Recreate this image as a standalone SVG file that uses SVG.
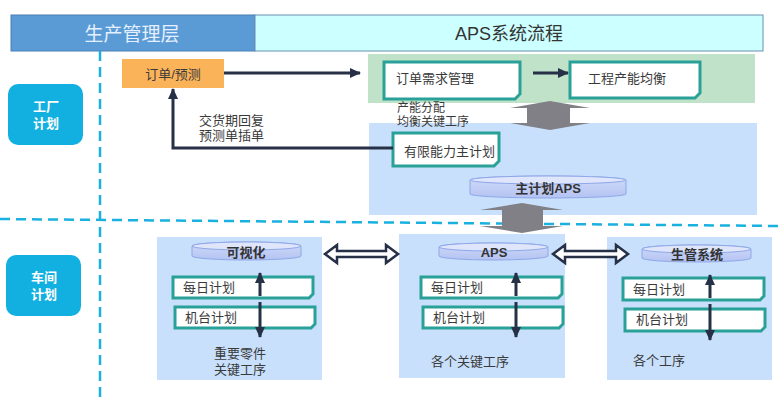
<svg xmlns="http://www.w3.org/2000/svg" width="781" height="402" viewBox="0 0 781 402">
<defs>
<style>
text{font-family:"Liberation Sans","Noto Sans CJK SC",sans-serif;fill:#3a3a3a;font-size:13px}
.hdr{font-size:18px}
.lbl{fill:#fff;font-weight:bold;font-size:13px;text-anchor:middle}
.b{font-weight:bold;text-anchor:middle;fill:#333}
.tbox{fill:#fff;stroke:#2aa198;stroke-width:3}
.dash{stroke:#1ab0e0;stroke-width:2.5;stroke-dasharray:10 6;fill:none}
.conn{stroke:#263046;stroke-width:3;fill:none}
.dbl{fill:#fff;stroke:#263046;stroke-width:2.5;stroke-linejoin:miter}
.fat{fill:#808086}
.cyl{fill:url(#cg);stroke:#8fa8e8;stroke-width:1}
.cyltop{fill:#dfe6fc;stroke:#8fa8e8;stroke-width:1}
.panel{fill:#c8e0fb}
</style>
<linearGradient id="cg" x1="0" y1="0" x2="0" y2="1">
<stop offset="0" stop-color="#d0daf8"/>
<stop offset="1" stop-color="#b4c3f2"/>
</linearGradient>
<marker id="ah" markerWidth="12" markerHeight="10" refX="10" refY="5" orient="auto" markerUnits="userSpaceOnUse">
<path d="M0,0 L11,5 L0,10 Z" fill="#263046"/>
</marker>
</defs>

<g id="header">
<rect x="11" y="15" width="244" height="36" fill="#5b9bd5" stroke="#4a7fb5" stroke-width="1"/>
<rect x="255" y="15" width="508" height="36" fill="#ccffff" stroke="#6a90b0" stroke-width="1"/>
<text class="hdr" x="132" y="41" text-anchor="middle" style="fill:#e4f0ff;font-size:19px">生产管理层</text>
<text class="hdr" x="509" y="40" text-anchor="middle" style="fill:#333">APS系统流程</text>
</g>

<g id="dividers">
<line class="dash" x1="100" y1="51" x2="100" y2="402"/>
<line class="dash" x1="0" y1="219" x2="781" y2="226"/>
</g>

<g id="factory-label">
<rect x="8" y="84" width="75" height="61" rx="10" fill="#12b0e0"/>
<text class="lbl" x="46" y="111">工厂</text>
<text class="lbl" x="46" y="128">计划</text>
</g>
<g id="workshop-label">
<rect x="6" y="255" width="75" height="61" rx="10" fill="#12b0e0"/>
<text class="lbl" x="44" y="282">车间</text>
<text class="lbl" x="44" y="299">计划</text>
</g>

<g id="bg-green"><rect x="368" y="54" width="387" height="49" fill="#c0e2c9"/></g>
<g id="bg-blue"><rect x="369" y="123" width="388" height="92" class="panel"/></g>

<g id="order-forecast">
<rect x="122" y="59" width="102" height="29" fill="#fbb35a"/>
<text x="173" y="79" text-anchor="middle">订单/预测</text>
</g>

<g id="order-demand">
<path class="tbox" d="M384,62 H520 V94 L515,99 H384 Z"/>
<text x="396" y="83">订单需求管理</text>
</g>

<g id="capacity-balance">
<path class="tbox" d="M570,62 H700 V93 L695,98 H570 Z"/>
<text x="588" y="83">工程产能均衡</text>
</g>

<g id="capacity-note">
<text x="397" y="112" style="font-size:12px">产能分配</text>
<text x="397" y="126" style="font-size:12px">均衡关键工序</text>
</g>

<g id="finite-plan">
<path class="tbox" d="M393,133 H499 V161 L494,166 H393 Z"/>
<text x="404" y="156">有限能力主计划</text>
</g>

<g id="master-aps">
<path class="cyl" d="M470,180 A78,4 0 0 1 626,180 V194 A78,4 0 0 1 470,194 Z"/>
<ellipse class="cyltop" cx="548" cy="180" rx="78" ry="4"/>
<text class="b" x="548" y="193">主计划APS</text>
</g>

<g id="reply-note">
<text x="199" y="125">交货期回复</text>
<text x="199" y="140">预测单插单</text>
</g>

<g id="panel-visual">
<rect x="157" y="237" width="165" height="143" class="panel"/>
<path class="cyl" d="M192,246 A54.5,4 0 0 1 301,246 V256 A54.5,4 0 0 1 192,256 Z"/>
<ellipse class="cyltop" cx="246.5" cy="246" rx="54.5" ry="4"/>
<text class="b" x="246" y="257">可视化</text>
<path class="tbox" d="M173,277 H313 V294 L309,298 H173 Z"/>
<text x="183" y="292">每日计划</text>
<path class="tbox" d="M175,307 H315 V324 L311,328 H175 Z"/>
<text x="185" y="322">机台计划</text>
<text x="240" y="358" text-anchor="middle">重要零件</text>
<text x="240" y="374" text-anchor="middle">关键工序</text>
</g>

<g id="panel-aps">
<rect x="399" y="234" width="166" height="144" class="panel"/>
<path class="cyl" d="M439,247 A54.5,4 0 0 1 548,247 V256 A54.5,4 0 0 1 439,256 Z"/>
<ellipse class="cyltop" cx="493.5" cy="247" rx="54.5" ry="4"/>
<text class="b" x="494" y="257">APS</text>
<path class="tbox" d="M421,277 H562 V294 L558,298 H421 Z"/>
<text x="431" y="292">每日计划</text>
<path class="tbox" d="M423,307 H563 V324 L559,328 H423 Z"/>
<text x="433" y="322">机台计划</text>
<text x="431" y="366">各个关键工序</text>
</g>

<g id="panel-prod">
<rect x="607" y="237" width="165" height="143" class="panel"/>
<path class="cyl" d="M642,249 A54.5,4 0 0 1 751,249 V258 A54.5,4 0 0 1 642,258 Z"/>
<ellipse class="cyltop" cx="696.5" cy="249" rx="54.5" ry="4"/>
<text class="b" x="697" y="259">生管系统</text>
<path class="tbox" d="M623,278 H764 V296 L760,300 H623 Z"/>
<text x="633" y="294">每日计划</text>
<path class="tbox" d="M625,309 H765 V327 L761,331 H625 Z"/>
<text x="636" y="324">机台计划</text>
<text x="633" y="365">各个工序</text>
</g>

<g id="connectors">
<line class="conn" x1="224" y1="73" x2="360" y2="73" marker-end="url(#ah)"/>
<line class="conn" x1="533" y1="73" x2="568" y2="73" marker-end="url(#ah)"/>
<path class="conn" d="M393,148 H173 V89" marker-end="url(#ah)"/>
<polygon class="fat" points="550,101 590,108 570,108 570,123 590,123 550,130 510,123 527,123 527,108 510,108"/>
<polygon class="fat" points="522,203 563,210 543,210 543,226 563,226 522,233 480,226 502,226 502,210 480,210"/>
<path class="dbl" d="M325,254 L337,245 L337,251 L386,251 L386,245 L398,254 L386,263 L386,257 L337,257 L337,263 Z"/>
<path class="dbl" d="M553,254 L565,245 L565,251 L616,251 L616,245 L628,254 L616,263 L616,257 L565,257 L565,263 Z"/>
<line class="conn" x1="260" y1="296" x2="260" y2="273" marker-end="url(#ah)"/>
<line class="conn" x1="260" y1="302" x2="260" y2="337" marker-end="url(#ah)"/>
<line class="conn" x1="516" y1="296" x2="516" y2="273" marker-end="url(#ah)"/>
<line class="conn" x1="516" y1="302" x2="516" y2="337" marker-end="url(#ah)"/>
<line class="conn" x1="710" y1="298" x2="710" y2="275" marker-end="url(#ah)"/>
<line class="conn" x1="710" y1="304" x2="710" y2="340" marker-end="url(#ah)"/>
</g>
</svg>
